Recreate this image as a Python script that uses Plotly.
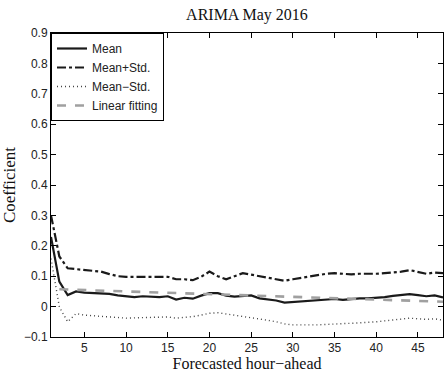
import plotly.graph_objects as go

hours = list(range(1, 49))
mean = [0.229, 0.082, 0.038, 0.050, 0.046, 0.045, 0.044, 0.042, 0.037, 0.033,
        0.031, 0.034, 0.033, 0.031, 0.034, 0.023, 0.029, 0.026, 0.036, 0.044,
        0.044, 0.036, 0.033, 0.035, 0.037, 0.027, 0.024, 0.020, 0.013, 0.015,
        0.016, 0.020, 0.022, 0.024, 0.025, 0.022, 0.025, 0.027, 0.027, 0.028,
        0.031, 0.035, 0.038, 0.041, 0.038, 0.034, 0.037, 0.030]
mean_plus = [0.300, 0.165, 0.126, 0.123, 0.120, 0.118, 0.115, 0.107, 0.100, 0.098,
             0.098, 0.097, 0.098, 0.097, 0.098, 0.090, 0.090, 0.087, 0.098, 0.115,
             0.100, 0.090, 0.100, 0.110, 0.105, 0.100, 0.095, 0.088, 0.085, 0.090,
             0.095, 0.100, 0.105, 0.108, 0.110, 0.108, 0.106, 0.108, 0.107, 0.108,
             0.110, 0.112, 0.115, 0.120, 0.115, 0.108, 0.112, 0.110]
mean_minus = [0.158, -0.001, -0.050, -0.023, -0.028, -0.030, -0.030, -0.033, -0.035, -0.038,
              -0.037, -0.036, -0.035, -0.035, -0.034, -0.038, -0.036, -0.033, -0.028, -0.022,
              -0.020, -0.024, -0.028, -0.032, -0.035, -0.040, -0.045, -0.050, -0.057, -0.060,
              -0.061, -0.060, -0.060, -0.058, -0.057, -0.056, -0.055, -0.054, -0.053, -0.050,
              -0.047, -0.044, -0.040, -0.038, -0.040, -0.042, -0.040, -0.045]
fit_x = [2, 48]
fit_y = [0.057, 0.016]

x_ticks = [5, 10, 15, 20, 25, 30, 35, 40, 45]
y_ticks = [-0.1, 0, 0.1, 0.2, 0.3, 0.4, 0.5, 0.6, 0.7, 0.8, 0.9]

fig = go.Figure()
fig.add_trace(go.Scatter(x=hours, y=mean, mode="lines", name="Mean",
                         line=dict(color="#1a1a1a", width=2.2)))
fig.add_trace(go.Scatter(x=hours, y=mean_plus, mode="lines", name="Mean+Std.",
                         line=dict(color="#1a1a1a", width=2.2, dash="dashdot")))
fig.add_trace(go.Scatter(x=hours, y=mean_minus, mode="lines", name="Mean\u2212Std.",
                         line=dict(color="#444444", width=1.4, dash="1px,3px")))
fig.add_trace(go.Scatter(x=fit_x, y=fit_y, mode="lines", name="Linear fitting",
                         line=dict(color="#a0a0a0", width=2.6, dash="dash")))

axis_common = dict(showline=True, linecolor="black", linewidth=1, mirror="ticks",
                   ticks="inside", ticklen=5, tickcolor="black", showgrid=False,
                   zeroline=False, tickfont=dict(family="Liberation Sans, Arial", size=12, color="#222"))

fig.update_layout(
    width=445, height=373,
    margin=dict(l=51, r=2, t=33, b=36),
    paper_bgcolor="white", plot_bgcolor="white",
    title=dict(text="ARIMA May 2016", x=0.555, xanchor="center", y=0.962, yanchor="middle",
               font=dict(family="Liberation Serif, Times New Roman", size=16, color="#111")),
    xaxis=dict(range=[1, 48], tickvals=x_ticks,
               title=dict(text="Forecasted hour\u2212ahead", standoff=2,
                          font=dict(family="Liberation Serif, Times New Roman", size=16, color="#111")),
               **axis_common),
    yaxis=dict(range=[-0.1, 0.9], tickvals=y_ticks,
               title=dict(text="Coefficient", standoff=5,
                          font=dict(family="Liberation Serif, Times New Roman", size=17, color="#111")),
               **axis_common),
    legend=dict(x=0, y=1, xanchor="left", yanchor="top", bgcolor="white",
                bordercolor="black", borderwidth=1, tracegroupgap=0,
                font=dict(family="Liberation Sans, Arial", size=12, color="#222")),
    showlegend=True,
)

fig.write_html("out.html")
